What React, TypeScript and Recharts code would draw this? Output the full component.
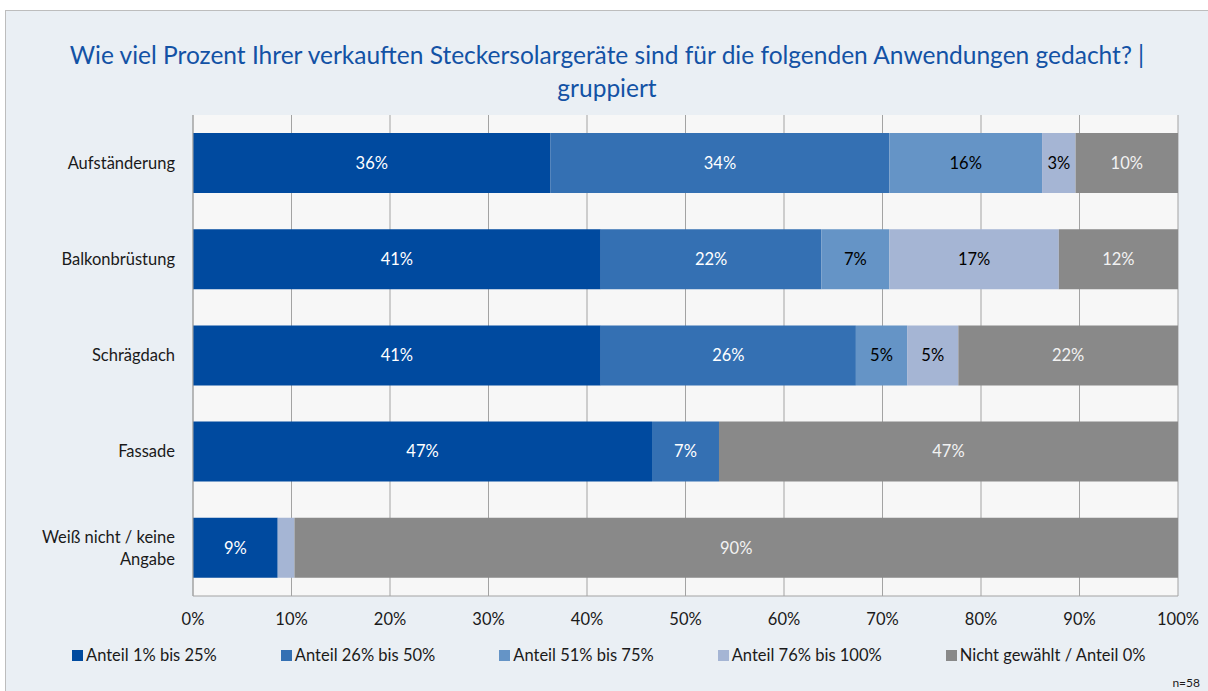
import React from "react";
import { BarChart, Bar, XAxis, YAxis, CartesianGrid, LabelList } from "recharts";

const categories = [
  "Aufständerung",
  "Balkonbrüstung",
  "Schrägdach",
  "Fassade",
  "Weiß nicht / keine Angabe",
];

// Anteile in Prozent (n=58)
const anteil1bis25 = [36.3, 41.4, 41.4, 46.6, 8.6];
const anteil26bis50 = [34.4, 22.4, 25.9, 6.8, 0];
const anteil51bis75 = [15.5, 6.9, 5.2, 0, 0];
const anteil76bis100 = [3.4, 17.2, 5.2, 0, 1.7];
const nichtGewaehlt = [10.4, 12.1, 22.3, 46.6, 89.7];

const xTicks = [0, 10, 20, 30, 40, 50, 60, 70, 80, 90, 100];

const series = [
  { key: "a1", name: "Anteil 1% bis 25%", color: "#004A9F", label: "#FFFFFF" },
  { key: "a2", name: "Anteil 26% bis 50%", color: "#3470B3", label: "#FFFFFF" },
  { key: "a3", name: "Anteil 51% bis 75%", color: "#6594C6", label: "#000000" },
  { key: "a4", name: "Anteil 76% bis 100%", color: "#A5B5D4", label: "#000000" },
  { key: "a5", name: "Nicht gewählt / Anteil 0%", color: "#898989", label: "#F2F2F2" },
];

const data = categories.map((name, i) => ({
  name,
  a1: anteil1bis25[i],
  a2: anteil26bis50[i],
  a3: anteil51bis75[i],
  a4: anteil76bis100[i],
  a5: nichtGewaehlt[i],
}));

const FONT = "Lato, 'Open Sans', sans-serif";
const FS = 16.5;

function wrap(text: string, max: number) {
  const words = text.split(" ");
  const lines: string[] = [];
  let cur = "";
  words.forEach((w) => {
    const next = cur ? cur + " " + w : w;
    if (next.length > max && cur) {
      lines.push(cur);
      cur = w;
    } else {
      cur = next;
    }
  });
  if (cur) lines.push(cur);
  return lines;
}

function CategoryTick(props: any) {
  const { x, y, payload } = props;
  const lines = wrap(payload.value, 19);
  const lh = 22;
  const start = y - ((lines.length - 1) * lh) / 2;
  return (
    <text x={x} textAnchor="end" fill="#1a1a1a" fontSize={FS} fontFamily={FONT}>
      {lines.map((l, i) => (
        <tspan key={i} x={x} y={start + i * lh} dy="0.35em">
          {l}
        </tspan>
      ))}
    </text>
  );
}

const fmt = (v: any) => (typeof v === "number" && v >= 2 ? `${Math.round(v)}%` : "");

export default function App() {
  return (
    <div
      style={{
        position: "absolute",
        left: 5,
        top: 10,
        width: 1202,
        height: 680,
        borderLeft: "1px solid #BDBDBD",
        borderTop: "1px solid #BDBDBD",
        background: "#EAEFF4",
        fontFamily: FONT,
      }}
    >
      <div
        style={{
          position: "absolute",
          left: 0,
          top: 27,
          width: 1202,
          textAlign: "center",
          color: "#1352A5",
          fontSize: 24.5,
          lineHeight: "33px",
        }}
      >
        <div>Wie viel Prozent Ihrer verkauften Steckersolargeräte sind für die folgenden Anwendungen gedacht? |</div>
        <div>gruppiert</div>
      </div>

      <div style={{ position: "absolute", left: 0, top: 0 }}>
        <BarChart
          width={1202}
          height={680}
          data={data}
          layout="vertical"
          margin={{ top: 104, right: 30, left: 0, bottom: 65 }}
          barSize={60}
        >
          <CartesianGrid
            horizontal={false}
            vertical={true}
            stroke="#A3A3A3"
            fill="#F7F7F7"
            fillOpacity={1}
          />
          <XAxis
            type="number"
            domain={[0, 100]}
            ticks={xTicks}
            tickFormatter={(v) => `${v}%`}
            axisLine={{ stroke: "#A3A3A3" }}
            tickLine={false}
            tickMargin={11}
            height={30}
            tick={{ fill: "#1a1a1a", fontSize: FS, fontFamily: FONT }}
            interval={0}
          />
          <XAxis
            xAxisId="top"
            orientation="top"
            type="number"
            domain={[0, 100]}
            height={0}
            tick={false}
            tickLine={false}
            axisLine={{ stroke: "#A3A3A3" }}
          />
          <YAxis
            type="category"
            dataKey="name"
            width={187}
            axisLine={{ stroke: "#A3A3A3" }}
            tickLine={false}
            tickMargin={12}
            tick={<CategoryTick />}
            interval={0}
          />
          {series.map((s) => (
            <Bar
              key={s.key}
              dataKey={s.key}
              name={s.name}
              stackId="a"
              fill={s.color}
              isAnimationActive={false}
            >
              <LabelList
                dataKey={s.key}
                position="center"
                formatter={fmt}
                fill={s.label}
                fontSize={FS}
                fontFamily={FONT}
              />
            </Bar>
          ))}
        </BarChart>
      </div>

      <div
        style={{
          position: "absolute",
          left: 66,
          top: 634,
          display: "flex",
          gap: 64,
          fontSize: FS,
          color: "#1a1a1a",
          lineHeight: "20px",
        }}
      >
        {series.map((s) => (
          <div key={s.key} style={{ display: "flex", alignItems: "center", gap: 3 }}>
            <span style={{ width: 11, height: 11, background: s.color, display: "inline-block" }} />
            <span>{s.name}</span>
          </div>
        ))}
      </div>

      <div
        style={{
          position: "absolute",
          right: 8,
          top: 664,
          fontSize: 12,
          color: "#1a1a1a",
        }}
      >
        n=58
      </div>
    </div>
  );
}
